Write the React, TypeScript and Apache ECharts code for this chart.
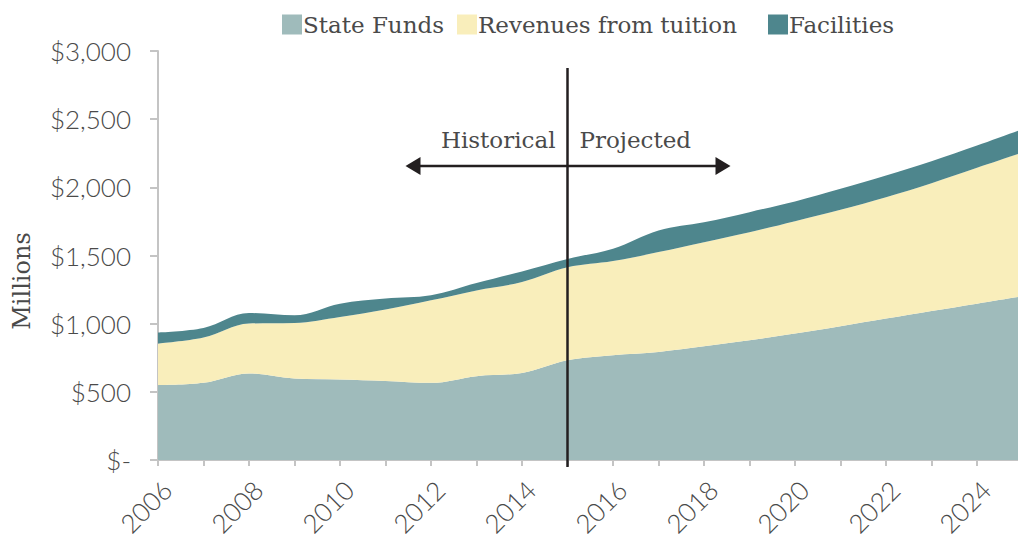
import React, { useEffect, useRef } from "react";
import * as echarts from "echarts";

const years = ["2006", "2007", "2008", "2009", "2010", "2011", "2012", "2013", "2014", "2015", "2016", "2017", "2018", "2019", "2020", "2021", "2022", "2023", "2024", "2025"];
const stateFunds = [549, 566, 635, 598, 591, 580, 566, 615, 639, 732, 769, 793, 834, 878, 927, 981, 1037, 1093, 1147, 1200];
const tuitionRevenue = [305, 332, 366, 407, 458, 523, 605, 629, 666, 681, 690, 732, 764, 793, 825, 854, 890, 937, 996, 1055];
const facilities = [81, 70, 77, 56, 98, 81, 37, 54, 78, 62, 91, 159, 146, 147, 144, 154, 159, 161, 163, 172];
const seriesNames = ["State Funds", "Revenues from tuition", "Facilities"];
const seriesColors = ["#9FBBBB", "#F9EEBB", "#4E868D"];
const dividerYear = "2015";
const yMin = 0;
const yMax = 3000;
const yStep = 500;

const SLAB = "'DejaVu Serif', serif";
const SANS = "Lato, 'Open Sans', sans-serif";
const TEXT = "#4A4A4A";
const AXIS = "#C4C4C4";

export default function App() {
  const ref = useRef<HTMLDivElement>(null);
  useEffect(() => {
    if (!ref.current) return;
    const chart = echarts.init(ref.current, undefined, { renderer: "svg" });
    const values = [stateFunds, tuitionRevenue, facilities];
    const legendLefts = [282, 457, 768];
    chart.setOption({
      animation: false,
      grid: { left: 158, top: 51, bottom: 75, right: -4.5, containLabel: false, outerBoundsMode: "none" },
      legend: seriesNames.map((n, i) => ({
        data: [n],
        left: legendLefts[i],
        top: 13,
        icon: "rect",
        itemWidth: 20,
        itemHeight: 20,
        padding: 0,
        textStyle: { fontFamily: SLAB, fontSize: 23, color: TEXT, padding: [0, 0, 0, -4] },
      })),
      xAxis: {
        type: "category",
        data: years,
        boundaryGap: false,
        axisLine: { show: true, lineStyle: { color: AXIS, width: 2 } },
        axisTick: { show: true, length: 6, interval: 0, lineStyle: { color: AXIS, width: 2 } },
        splitLine: { show: false },
        axisLabel: {
          rotate: 45,
          interval: 1,
          margin: 16,
          verticalAlign: "top",
          fontFamily: SANS,
          fontWeight: 300,
          fontSize: 26,
          color: TEXT,
        },
      },
      yAxis: {
        type: "value",
        min: yMin,
        max: yMax,
        interval: yStep,
        axisLine: { show: true, lineStyle: { color: AXIS, width: 2 } },
        axisTick: { show: true, length: 8, lineStyle: { color: AXIS, width: 2 } },
        splitLine: { show: false },
        axisLabel: {
          margin: 27,
          fontFamily: SANS,
          fontWeight: 300,
          fontSize: 26,
          color: TEXT,
          formatter: (v: number) => (v === 0 ? "$-" : "$" + v.toLocaleString("en-US")),
        },
      },
      series: seriesNames.map((n, i) => ({
        name: n,
        type: "line",
        stack: "total",
        smooth: 0.35,
        showSymbol: false,
        symbol: "none",
        lineStyle: { width: 0 },
        itemStyle: { color: seriesColors[i] },
        areaStyle: { color: seriesColors[i], opacity: 1 },
        data: values[i],
        z: 2,
      })),
    });
    const px = chart.convertToPixel({ xAxisIndex: 0 }, dividerYear) as number;
    const ink = "#231F20";
    const ay = 166;
    chart.setOption({
      graphic: [
        { type: "text", x: 22, y: 281, rotation: Math.PI / 2, style: { text: "Millions", fontFamily: SLAB, fontSize: 24, fill: TEXT, align: "center", verticalAlign: "middle" } },
        { type: "line", shape: { x1: px, y1: 68, x2: px, y2: 467 }, style: { stroke: ink, lineWidth: 2.5 }, z: 100 },
        { type: "line", shape: { x1: px - 148, y1: ay, x2: px + 149, y2: ay }, style: { stroke: ink, lineWidth: 2.5 }, z: 100 },
        { type: "polygon", shape: { points: [[px - 162, ay], [px - 147, ay - 9], [px - 147, ay + 9]] }, style: { fill: ink }, z: 100 },
        { type: "polygon", shape: { points: [[px + 163, ay], [px + 148, ay - 9], [px + 148, ay + 9]] }, style: { fill: ink }, z: 100 },
        { type: "text", x: px - 12, y: 140, style: { text: "Historical", fontFamily: SLAB, fontSize: 23, fill: TEXT, align: "right", verticalAlign: "middle" }, z: 100 },
        { type: "text", x: px + 12, y: 140, style: { text: "Projected", fontFamily: SLAB, fontSize: 23, fill: TEXT, align: "left", verticalAlign: "middle" }, z: 100 },
      ],
    });
    return () => chart.dispose();
  }, []);
  return <div ref={ref} style={{ position: "absolute", left: 0, top: 0, width: 1018, height: 535 }} />;
}
